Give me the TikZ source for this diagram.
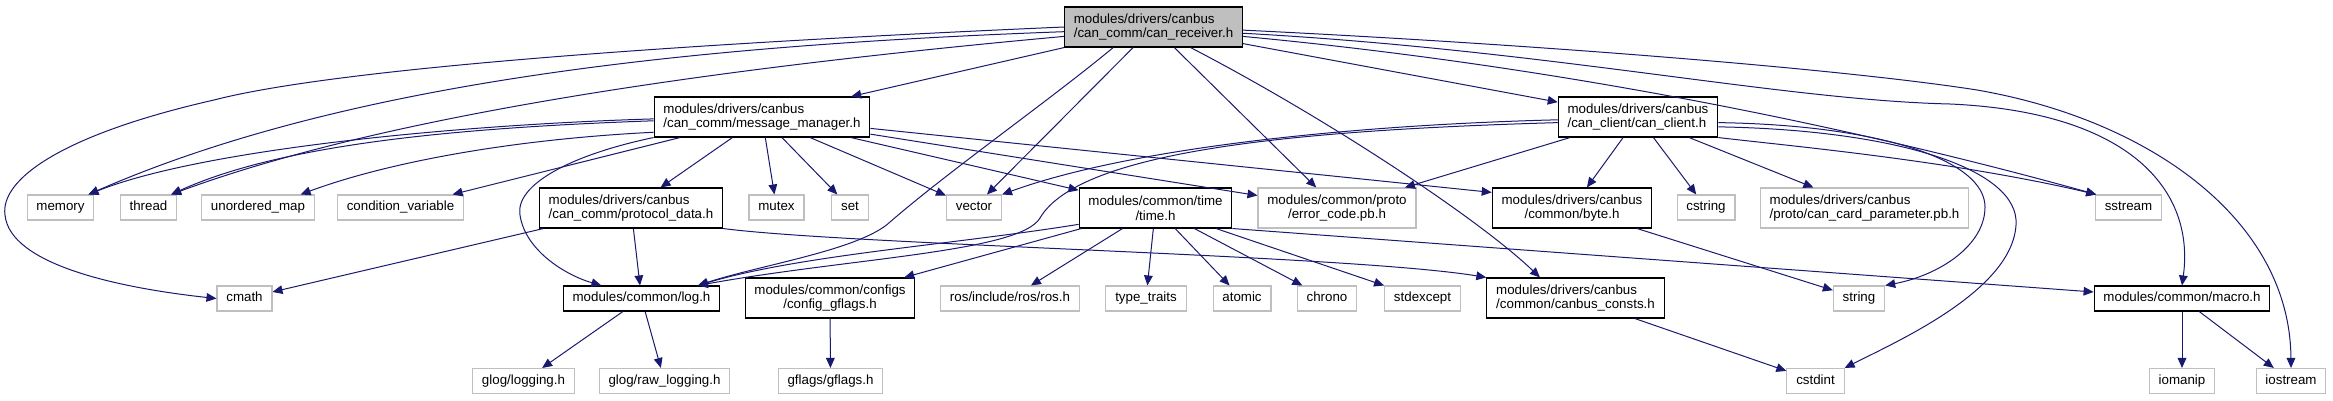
\documentclass[tikz,border=0pt]{standalone}
\usepackage{fontspec}
\setmainfont{Liberation Sans}
\usetikzlibrary{arrows.meta}
\definecolor{edgeblue}{RGB}{25, 25, 112}
\definecolor{extgray}{RGB}{191, 191, 191}

\begin{document}
\begin{tikzpicture}[x=0.75pt, y=-0.75pt,
    file/.style={draw=black, line width=0.8pt, fill=white, inner xsep=7pt, inner ysep=2pt,
                 font=\fontsize{10}{11}\selectfont, minimum height=18.75pt},
    sys/.style={file, draw=extgray},
    one/.style={text height=7.3pt, text depth=2.2pt},
    two/.style={minimum height=30pt, align=center},
    dep/.style={-{Triangle[length=7.5pt, width=6.5pt]}, line width=0.75pt, edgeblue}]
  \useasboundingbox (0,0) rectangle (2333,400);

  % The header itself
  \node[file, two, fill=extgray, align=left] (root) at (1153.5,27)
    {modules/drivers/canbus\\/can\_comm/can\_receiver.h};

  % First level
  \node[file, two, align=left] (mm) at (762,117)
    {modules/drivers/canbus\\/can\_comm/message\_manager.h};
  \node[file, two, align=left] (cc) at (1638,117)
    {modules/drivers/canbus\\/can\_client/can\_client.h};

  % Second row
  \node[sys, one] (memory) at (60.5,207.5) {memory};
  \node[sys, one] (thread) at (148.5,207.5) {thread};
  \node[sys, one] (umap) at (258,207.5) {unordered\_map};
  \node[sys, one] (condvar) at (400.5,207.5) {condition\_variable};
  \node[file, two, align=left] (pdata) at (631,208)
    {modules/drivers/canbus\\/can\_comm/protocol\_data.h};
  \node[sys, one] (mutex) at (776.5,207.5) {mutex};
  \node[sys, one] (set) at (850,207.5) {set};
  \node[sys, one] (vector) at (974,207.5) {vector};
  \node[file, two] (time) at (1155.5,208) {modules/common/time\\/time.h};
  \node[sys, two] (errcode) at (1337,208) {modules/common/proto\\/error\_code.pb.h};
  \node[file, two] (byte) at (1572,208) {modules/drivers/canbus\\/common/byte.h};
  \node[sys, one] (cstring) at (1706,207.5) {cstring};
  \node[sys, two, align=left] (cardparam) at (1864.5,208)
    {modules/drivers/canbus\\/proto/can\_card\_parameter.pb.h};
  \node[sys, one] (sstream) at (2128.5,207.5) {sstream};

  % Third row
  \node[sys, one] (cmath) at (244.5,298.5) {cmath};
  \node[file, one] (log) at (641.5,298.5) {modules/common/log.h};
  \node[file, two] (gflagscfg) at (830,298) {modules/common/configs\\/config\_gflags.h};
  \node[sys, one] (ros) at (1010,298.5) {ros/include/ros/ros.h};
  \node[sys, one] (traits) at (1146,298.5) {type\_traits};
  \node[sys, one] (atomic) at (1242,298.5) {atomic};
  \node[sys, one] (chrono) at (1327,298.5) {chrono};
  \node[sys, one] (stdexcept) at (1422.5,298.5) {stdexcept};
  \node[file, two, align=left] (consts) at (1575.5,298)
    {modules/drivers/canbus\\/common/canbus\_consts.h};
  \node[sys, one] (string) at (1859,298.5) {string};
  \node[file, one] (macro) at (2182,298.5) {modules/common/macro.h};

  % Bottom row
  \node[sys, one] (glog) at (523.5,381) {glog/logging.h};
  \node[sys, one] (rawlog) at (664.5,381) {glog/raw\_logging.h};
  \node[sys, one] (gflags) at (830.5,381) {gflags/gflags.h};
  \node[sys, one] (cstdint) at (1815.5,381) {cstdint};
  \node[sys, one] (iomanip) at (2182,381) {iomanip};
  \node[sys, one] (iostream) at (2291,381) {iostream};

  % Includes of can_receiver.h
  \draw[dep] (root.west) .. controls (650,45) and (330,70) .. (214,100)
    .. controls (60,135) and (0,180) .. (5,215)
    .. controls (10,265) and (120,288) .. (cmath.west);
  \draw[dep] (root.183) .. controls (700,45) and (350,80) .. (memory.25);
  \draw[dep] (root.186) .. controls (750,65) and (400,110) .. (thread.30);
  \draw[dep] (root) -- (mm);
  \draw[dep] (root.207) .. controls (1050,100) and (950,170) .. (890,222)
    .. controls (860,250) and (760,265) .. (log.13);
  \draw[dep] (root) -- (vector);
  \draw[dep] (root) -- (errcode);
  \draw[dep] (root.-29) .. controls (1330,120) and (1480,220) .. (consts.150);
  \draw[dep] (root) -- (cc);
  \draw[dep] (root.-6) .. controls (1600,70) and (1900,140) .. (sstream.158);
  \draw[dep] (root.-4) .. controls (1550,50) and (1780,100) .. (1950,104)
    .. controls (2130,112) and (2195,190) .. (macro.north);
  \draw[dep] (root.-2) .. controls (1550,45) and (1850,70) .. (1977,90)
    .. controls (2150,120) and (2290,220) .. (iostream.north);

  % Includes of message_manager.h
  \draw[dep] (mm.181) .. controls (450,125) and (200,150) .. (memory.25);
  \draw[dep] (mm.182) .. controls (450,128) and (280,145) .. (thread.30);
  \draw[dep] (mm.188) .. controls (500,140) and (380,165) .. (umap.17);
  \draw[dep] (mm) -- (condvar);
  \draw[dep] (mm) -- (pdata);
  \draw[dep] (mm.south west) .. controls (570,155) and (515,185) .. (520,215)
    .. controls (525,250) and (565,275) .. (log.162);
  \draw[dep] (mm) -- (mutex);
  \draw[dep] (mm) -- (set);
  \draw[dep] (mm) -- (vector);
  \draw[dep] (mm) -- (time);
  \draw[dep] (mm) -- (errcode);
  \draw[dep] (mm.-6) -- (byte.169);

  % Includes of can_client.h
  \draw[dep] (cc.182) .. controls (1350,125) and (1130,148) .. (vector.north east);
  \draw[dep] (cc.184) .. controls (1300,130) and (1080,150) .. (1040,218)
    .. controls (1020,252) and (850,258) .. (log.13);
  \draw[dep] (cc) -- (errcode);
  \draw[dep] (cc) -- (byte);
  \draw[dep] (cc) -- (cstring);
  \draw[dep] (cc) -- (cardparam);
  \draw[dep] (cc.south east) .. controls (1780,145) and (1950,160) .. (sstream.158);
  \draw[dep] (cc.-4) .. controls (1880,125) and (1985,160) .. (1985,207)
    .. controls (1985,245) and (1940,275) .. (string.north east);
  \draw[dep] (cc.-7) .. controls (1900,130) and (2020,170) .. (2016,225)
    .. controls (2012,290) and (1900,340) .. (cstdint.north east);

  % Second level
  \draw[dep] (pdata) -- (cmath);
  \draw[dep] (pdata) -- (log);
  \draw[dep] (pdata.south east) .. controls (850,245) and (1350,255) .. (consts.north west);
  \draw[dep] (time.192) .. controls (950,245) and (800,255) .. (log.13);
  \draw[dep] (time) -- (gflagscfg);
  \draw[dep] (time) -- (ros);
  \draw[dep] (time) -- (traits);
  \draw[dep] (time) -- (atomic);
  \draw[dep] (time) -- (chrono);
  \draw[dep] (time) -- (stdexcept);
  \draw[dep] (time.south east) -- (macro);
  \draw[dep] (byte) -- (string);

  % Third level
  \draw[dep] (log) -- (glog);
  \draw[dep] (log) -- (rawlog);
  \draw[dep] (gflagscfg) -- (gflags);
  \draw[dep] (consts) -- (cstdint);
  \draw[dep] (macro) -- (iomanip);
  \draw[dep] (macro) -- (iostream);
\end{tikzpicture}
\end{document}
